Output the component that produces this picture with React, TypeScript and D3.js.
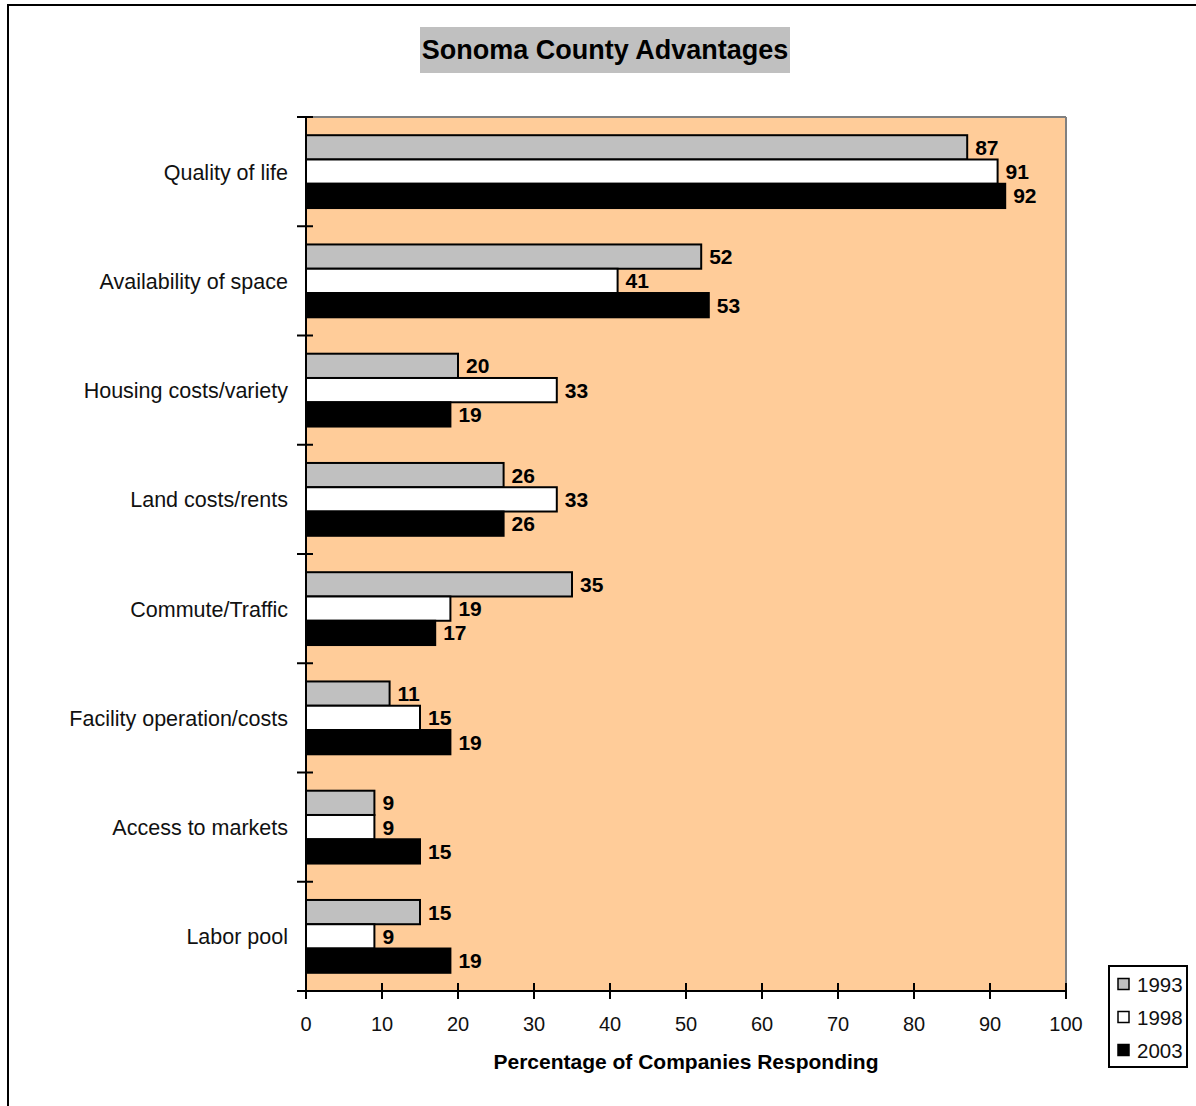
import React from "react";
import * as d3 from "d3";

const categories = [
  "Quality of life",
  "Availability of space",
  "Housing costs/variety",
  "Land costs/rents",
  "Commute/Traffic",
  "Facility operation/costs",
  "Access to markets",
  "Labor pool",
];
const years = ["1993", "1998", "2003"];
const values1993 = [87, 52, 20, 26, 35, 11, 9, 15];
const values1998 = [91, 41, 33, 33, 19, 15, 9, 9];
const values2003 = [92, 53, 19, 26, 17, 19, 15, 19];
const xTicks = [0, 10, 20, 30, 40, 50, 60, 70, 80, 90, 100];

const seriesValues = [values1993, values1998, values2003];
const seriesColors = ["#C0C0C0", "#FFFFFF", "#000000"];

const FONT = "'Liberation Sans', Arial, sans-serif";

export default function App() {
  const W = 1196;
  const H = 1106;
  const left = 306;
  const right = 1066;
  const top = 117;
  const bottom = 991;

  const x = d3.scaleLinear().domain([0, 100]).range([left, right]);
  const y = d3.scaleBand<string>().domain(categories).range([top, bottom]).paddingInner(0).paddingOuter(0);
  const band = y.bandwidth();
  const barH = band / (3 + 1.5);
  const groupOffset = (band - 3 * barH) / 2;

  return (
    <svg width={W} height={H} style={{ position: "absolute", left: 0, top: 0, background: "#fff" }} fontFamily={FONT}>
      {/* outer border */}
      <rect x={8} y={5} width={W + 20} height={H + 20} fill="#fff" stroke="#000" strokeWidth={2} />

      {/* title */}
      <rect x={420} y={27} width={370} height={46} fill="#C0C0C0" />
      <text x={605} y={59} textAnchor="middle" fontWeight="bold" fontSize={27} fill="#000">
        Sonoma County Advantages
      </text>

      {/* plot area */}
      <rect x={left} y={top} width={right - left} height={bottom - top} fill="#FFCC99" />
      <line x1={left} x2={right} y1={top} y2={top} stroke="#808080" strokeWidth={2} />
      <line x1={right} x2={right} y1={top} y2={bottom} stroke="#808080" strokeWidth={2} />

      {/* bars */}
      {categories.map((c, ci) => (
        <g key={c}>
          {seriesValues.map((vals, si) => {
            const by = (y(c) as number) + groupOffset + si * barH;
            const v = vals[ci];
            return (
              <g key={si}>
                <rect
                  x={x(0)}
                  y={by}
                  width={x(v) - x(0)}
                  height={barH}
                  fill={seriesColors[si]}
                  stroke="#000"
                  strokeWidth={2}
                />
                <text
                  x={x(v) + 8}
                  y={by + barH / 2 + 7.5}
                  fontWeight="bold"
                  fontSize={21}
                  fill="#000"
                >
                  {v}
                </text>
              </g>
            );
          })}
          <text
            x={288}
            y={(y(c) as number) + band / 2 + 8}
            textAnchor="end"
            fontSize={21.5}
            fill="#111"
          >
            {c}
          </text>
        </g>
      ))}

      {/* y axis */}
      <line x1={left} x2={left} y1={top} y2={bottom} stroke="#000" strokeWidth={2} />
      {[...categories.map((c) => y(c) as number), bottom].map((ty, i) => (
        <line key={i} x1={297} x2={i === categories.length ? left : 313} y1={ty} y2={ty} stroke="#000" strokeWidth={2} />
      ))}

      {/* x axis */}
      <line x1={297} x2={right} y1={bottom} y2={bottom} stroke="#000" strokeWidth={2} />
      {xTicks.map((t) => (
        <g key={t}>
          <line x1={x(t)} x2={x(t)} y1={t === 0 ? bottom : bottom - 8} y2={bottom + 8} stroke="#000" strokeWidth={2} />
          <text x={x(t)} y={1031} textAnchor="middle" fontSize={20} fill="#111">
            {t}
          </text>
        </g>
      ))}
      <text x={686} y={1069} textAnchor="middle" fontWeight="bold" fontSize={21} fill="#000">
        Percentage of Companies Responding
      </text>

      {/* legend */}
      <rect x={1109} y={966} width={78} height={101} fill="#fff" stroke="#000" strokeWidth={2} />
      {years.map((yr, i) => {
        const cy = 984 + i * 33;
        return (
          <g key={yr}>
            <rect x={1118} y={cy - 5.5} width={11} height={11} fill={seriesColors[i]} stroke="#000" strokeWidth={1.5} />
            <text x={1137} y={cy + 7.5} fontSize={20.5} fill="#111">
              {yr}
            </text>
          </g>
        );
      })}
    </svg>
  );
}
